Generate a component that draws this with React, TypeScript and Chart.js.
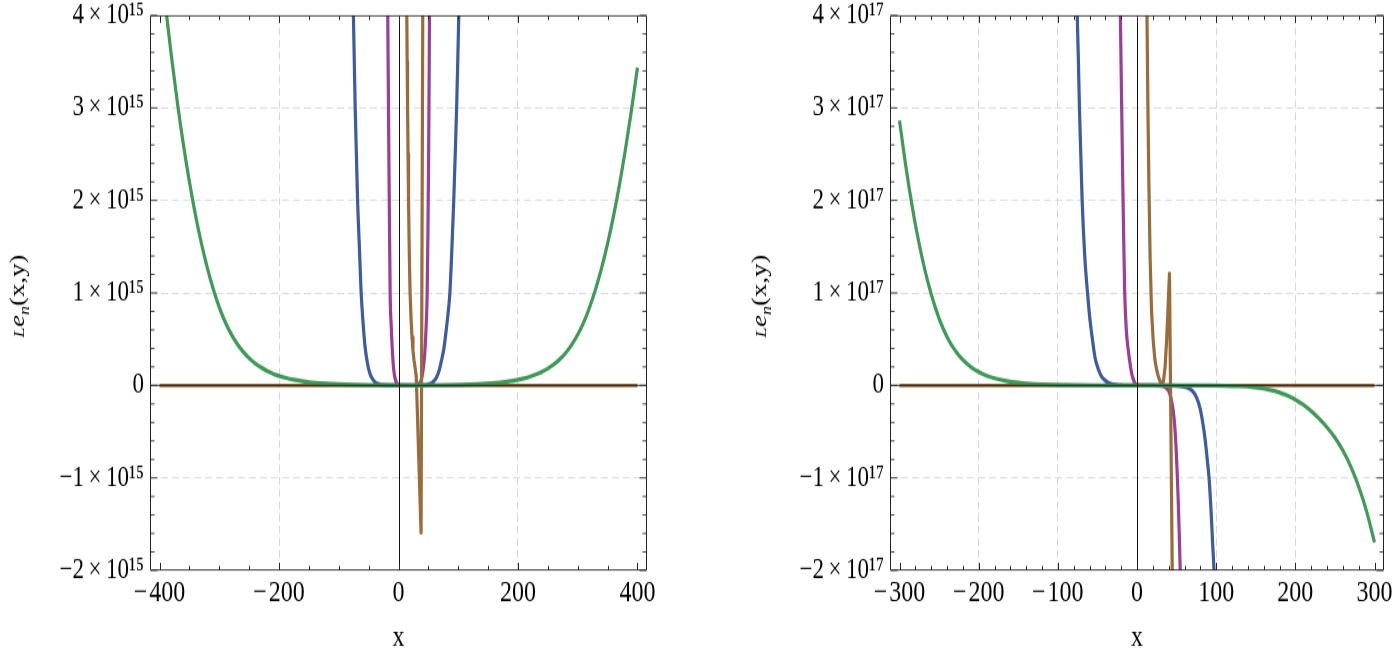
import React, { useEffect, useRef } from "react";
import { Chart, registerables } from "chart.js";

Chart.register(...registerables);

const SERIF = '"Liberation Serif", "Times New Roman", serif';

const GREEN = "#3e9a56";
const BLUE = "#3e5b9d";
const MAGENTA = "#9b3e97";
const BROWN = "#9b6c3b";
const GRID = "#d6d6d6";
const LINE_W = 3.2;

// The reference picture is vertically stretched; the canvas is drawn at a
// reduced height and shown at full height so glyphs get the same tall shape.
const PAGE_H = 651;
const CANVAS_H = 509;
const VSTRETCH = PAGE_H / CANVAS_H;

// ---------------- Left panel (y in units of 1e15) ----------------
const LEFT_UNIT = 1e15;
const LEFT_EXP = "¹⁵";
const LEFT_X_MIN = -416;
const LEFT_X_MAX = 416;
const LEFT_Y_MIN = -2;
const LEFT_Y_MAX = 4;
const LEFT_X_TICKS = [-400, -200, 0, 200, 400];
const LEFT_Y_TICKS = [-2, -1, 0, 1, 2, 3, 4];
const LEFT_X_GRID = [-200, 200];
const LEFT_Y_GRID = [-1, 1, 2, 3];
const LEFT_X_MINOR_STEP = 50;

const leftGreenX = [-400, -390, -380, -370, -360, -350, -340, -330, -320, -310, -300, -290, -280, -270, -260, -250, -240, -230, -220, -210, -200, -190, -175, -160, -145, -130, -110, -90, -70, -45, -20, 0, 25, 50, 75, 100, 120, 140, 155, 170, 185, 200, 210, 220, 230, 240, 250, 260, 270, 280, 290, 300, 310, 320, 330, 340, 350, 360, 370, 380, 390, 400];
const leftGreenY = [4.7, 4.1, 3.55, 3.05, 2.6, 2.2, 1.845, 1.537, 1.27, 1.04, 0.844, 0.684, 0.554, 0.449, 0.364, 0.295, 0.239, 0.194, 0.157, 0.127, 0.103, 0.084, 0.061, 0.0446, 0.0325, 0.0237, 0.0156, 0.0103, 0.0067, 0.004, 0.0024, 0.0015, 0.0013, 0.0022, 0.0039, 0.0067, 0.0105, 0.0162, 0.0226, 0.0314, 0.0437, 0.0607, 0.0757, 0.0943, 0.1175, 0.1465, 0.1825, 0.227, 0.283, 0.353, 0.44, 0.548, 0.683, 0.847, 1.041, 1.269, 1.532, 1.833, 2.174, 2.555, 2.976, 3.435];

const leftBlueX = [-80, -77.5, -75.5, -74, -72.5, -70.5, -68.5, -65.5, -62.5, -59, -56, -52, -48, -44, -40, -35, -30, -22, -12, 0, 12, 24, 34, 42, 48, 53, 58, 63, 67.5, 72, 76, 79, 82.5, 86, 89.5, 92.5, 95, 97.3, 99.2, 100.9, 103.5, 106];
const leftBlueY = [5.3, 4.5, 4.0, 3.5, 3.0, 2.5, 2.0, 1.5, 1.0, 0.65, 0.42, 0.24, 0.13, 0.075, 0.04, 0.018, 0.008, 0.002, 0.0003, 0, 0, 0.0001, 0.0008, 0.003, 0.008, 0.018, 0.04, 0.08, 0.15, 0.27, 0.4, 0.55, 0.75, 1.0, 1.5, 2.0, 2.5, 3.0, 3.5, 4.0, 4.8, 5.6];

const leftMagentaX = [-21, -19.5, -18, -17, -16, -15, -14, -12, -10, -8, -5.5, -3, -1, 0, 10, 20, 30, 35, 38, 40.5, 42.5, 44, 46, 48, 49.2, 50.2, 51, 51.7, 52.5, 53.5];
const leftMagentaY = [5.6, 4.8, 4.0, 3.2, 2.4, 1.65, 1.0, 0.62, 0.34, 0.17, 0.07, 0.025, 0.005, 0.001, 0, 0, 0.003, 0.02, 0.06, 0.14, 0.24, 0.35, 0.6, 1.0, 1.6, 2.3, 3.0, 3.8, 4.6, 5.6];

const leftBrownX = [11, 12.5, 13.9, 14.5, 15.2, 16, 16.8, 18, 19.4, 21, 22.6, 24.2, 26, 28, 29.7, 37.8, 40.6, 41.6];
const leftBrownY = [7.5, 5.6, 4.0, 3.5, 3.0, 2.5, 2.0, 1.45, 1.0, 0.72, 0.52, 0.38, 0.27, 0.18, 0.1, -1.59, 4.0, 6.2];

const leftFlatX = [-400, 400];
const leftFlatY = [0, 0];

// ---------------- Right panel (y in units of 1e17) ----------------
const RIGHT_UNIT = 1e17;
const RIGHT_EXP = "¹⁷";
const RIGHT_X_MIN = -312;
const RIGHT_X_MAX = 312;
const RIGHT_Y_MIN = -2;
const RIGHT_Y_MAX = 4;
const RIGHT_X_TICKS = [-300, -200, -100, 0, 100, 200, 300];
const RIGHT_Y_TICKS = [-2, -1, 0, 1, 2, 3, 4];
const RIGHT_X_GRID = [-200, -100, 100, 200];
const RIGHT_Y_GRID = [-1, 1, 2, 3];
const RIGHT_X_MINOR_STEP = 20;

const rightGreenX = [-300, -292, -284, -276, -268, -260, -250, -240, -230, -220, -210, -200, -190, -180, -165, -150, -135, -120, -100, -75, -50, -25, 0, 30, 60, 90, 110, 130, 145, 159, 170, 180, 190, 200, 210, 220, 230, 240, 250, 260, 270, 280, 290, 300];
const rightGreenY = [2.863, 2.368, 1.936, 1.565, 1.251, 0.988, 0.724, 0.526, 0.382, 0.277, 0.201, 0.146, 0.106, 0.077, 0.0477, 0.0295, 0.0183, 0.0113, 0.006, 0.0027, 0.0012, 0.0005, 0, 0, -0.0002, -0.001, -0.0031, -0.0089, -0.0181, -0.0336, -0.0526, -0.0771, -0.11, -0.154, -0.209, -0.2775, -0.359, -0.453, -0.564, -0.703, -0.876, -1.092, -1.36, -1.696];

const rightBlueX = [-80, -77.5, -75.5, -74, -72.7, -71, -69.3, -66, -62.5, -59, -56, -53, -49, -45, -41, -37, -32, -26, -18, -8, 0, 20, 40, 50, 57, 62, 66, 70, 73.5, 77, 80, 83, 86, 88.5, 91, 93.5, 95.5, 97.3, 99.5];
const rightBlueY = [5.0, 4.4, 4.0, 3.5, 3.0, 2.5, 2.0, 1.4, 1.0, 0.68, 0.48, 0.3, 0.18, 0.1, 0.06, 0.032, 0.015, 0.006, 0.0015, 0.0002, 0, 0, -0.001, -0.004, -0.01, -0.02, -0.035, -0.06, -0.1, -0.17, -0.26, -0.4, -0.58, -0.78, -1.0, -1.35, -1.7, -2.0, -2.5];

const rightMagentaX = [-23, -21, -20, -19, -18, -17, -15.5, -13.5, -11, -9, -6.5, -4, -2, 0, 10, 20, 30, 36, 40, 43, 45.5, 47.5, 49.5, 51, 52.3, 53.5, 54.6, 56];
const rightMagentaY = [5.0, 4.0, 3.4, 2.8, 2.2, 1.7, 1.0, 0.6, 0.38, 0.25, 0.12, 0.05, 0.015, 0.005, 0, 0, -0.004, -0.02, -0.06, -0.14, -0.26, -0.42, -0.7, -1.0, -1.3, -1.65, -2.0, -2.6];

const rightBrownX = [10, 11.5, 12.6, 13.8, 15, 16.5, 18.4, 20.5, 22.6, 24.8, 26.8, 28.8, 30.5, 31.7, 33.5, 35.5, 37.5, 39.5, 41, 44.5, 45.2];
const rightBrownY = [6.0, 4.8, 4.0, 3.0, 2.2, 1.4, 0.8, 0.48, 0.28, 0.17, 0.1, 0.05, 0.02, 0.008, 0.05, 0.2, 0.5, 0.9, 1.21, -2.0, -2.8];

const rightFlatX = [-300, 300];
const rightFlatY = [0, 0];

// ---------------- helpers ----------------
function pts(xs: number[], ys: number[], unit: number) {
  return xs.map((x, i) => ({ x, y: ys[i] * unit }));
}

function xLabel(v: number) {
  if (v === 0) return "0";
  return (v < 0 ? "\u2212\u200A" : "") + Math.abs(v);
}

function yLabel(v: number, exp: string) {
  if (v === 0) return "0";
  return (v < 0 ? "\u2212" : "") + Math.abs(v) + "\u2009×\u200910" + exp;
}

type PanelCfg = {
  unit: number;
  exp: string;
  xMin: number;
  xMax: number;
  yMin: number;
  yMax: number;
  xTicks: number[];
  yTicks: number[];
  xGrid: number[];
  yGrid: number[];
  xMinorStep: number;
  canvasWidth: number;
  yAxisWidth: number;
  padRight: number;
  titleX: number;
  datasets: any[];
};

function drawYTitle(ctx: CanvasRenderingContext2D, baseX: number, centerY: number) {
  const parts = [
    { t: "L", size: 15, italic: true, shift: 0 },
    { t: "e", size: 21, italic: true, shift: 0 },
    { t: "n", size: 14, italic: true, shift: 4.5 },
    { t: "(x,y)", size: 21, italic: false, shift: 0 },
  ];
  ctx.save();
  ctx.translate(baseX, centerY);
  ctx.rotate(-Math.PI / 2);
  ctx.fillStyle = "#000";
  ctx.textBaseline = "alphabetic";
  ctx.textAlign = "left";
  const fonts = parts.map((p) => `${p.italic ? "italic " : ""}${p.size}px ${SERIF}`);
  let total = 0;
  const widths = parts.map((p, i) => {
    ctx.font = fonts[i];
    const w = ctx.measureText(p.t).width;
    total += w;
    return w;
  });
  let pos = -total / 2;
  parts.forEach((p, i) => {
    ctx.font = fonts[i];
    ctx.fillText(p.t, pos, p.shift);
    pos += widths[i];
  });
  ctx.restore();
}

function framePlugin(cfg: PanelCfg) {
  return {
    id: "frameTicks",
    afterDatasetsDraw(chart: any) {
      const { ctx, chartArea: a } = chart;
      const xs = chart.scales.x;
      const ys = chart.scales.y;
      const L = Math.round(a.left) + 0.5;
      const R = Math.round(a.right) - 0.5;
      const T = a.top + 0.4;
      const B = a.bottom - 0.4;
      ctx.save();
      // axes through the origin
      ctx.strokeStyle = "#111";
      const px0 = Math.round(xs.getPixelForValue(0)) + 0.5;
      const py0 = ys.getPixelForValue(0);
      ctx.lineWidth = 1;
      ctx.beginPath();
      ctx.moveTo(px0, T);
      ctx.lineTo(px0, B);
      ctx.stroke();
      ctx.lineWidth = 0.85;
      ctx.beginPath();
      ctx.moveTo(L, py0);
      ctx.lineTo(R, py0);
      ctx.stroke();
      // frame
      ctx.strokeStyle = "#222";
      ctx.lineWidth = 1;
      ctx.beginPath();
      ctx.moveTo(L, T);
      ctx.lineTo(L, B);
      ctx.moveTo(R, T);
      ctx.lineTo(R, B);
      ctx.stroke();
      ctx.lineWidth = 0.85;
      ctx.beginPath();
      ctx.moveTo(L, T);
      ctx.lineTo(R, T);
      ctx.moveTo(L, B);
      ctx.lineTo(R, B);
      ctx.stroke();
      // ticks (inward) on all sides
      ctx.lineWidth = 1;
      ctx.beginPath();
      const majorV = 7 / VSTRETCH;
      const minorV = 4 / VSTRETCH;
      for (let v = cfg.xTicks[0]; v <= cfg.xTicks[cfg.xTicks.length - 1] + 1e-9; v += cfg.xMinorStep) {
        const isMajor = cfg.xTicks.some((t) => Math.abs(t - v) < 1e-9);
        const len = isMajor ? majorV : minorV;
        const p = Math.round(xs.getPixelForValue(v)) + 0.5;
        ctx.moveTo(p, B);
        ctx.lineTo(p, B - len);
        ctx.moveTo(p, T);
        ctx.lineTo(p, T + len);
      }
      ctx.stroke();
      ctx.lineWidth = 0.85;
      ctx.beginPath();
      for (let i = cfg.yMin * 5; i <= cfg.yMax * 5; i++) {
        const v = i / 5;
        const isMajor = i % 5 === 0;
        const len = isMajor ? 7 : 4;
        const p = ys.getPixelForValue(v * cfg.unit);
        ctx.moveTo(L, p);
        ctx.lineTo(L + len, p);
        ctx.moveTo(R, p);
        ctx.lineTo(R - len, p);
      }
      ctx.stroke();
      ctx.restore();
      drawYTitle(ctx, cfg.titleX, (a.top + a.bottom) / 2 + 2.5);
    },
  };
}

function makeConfig(cfg: PanelCfg): any {
  return {
    type: "line",
    data: { datasets: cfg.datasets },
    options: {
      animation: false,
      responsive: false,
      maintainAspectRatio: false,
      events: [],
      layout: { autoPadding: false, padding: { top: 12, right: cfg.padRight, left: 0, bottom: 0 } },
      plugins: { legend: { display: false }, tooltip: { enabled: false } },
      elements: { point: { radius: 0 } },
      scales: {
        x: {
          type: "linear",
          min: cfg.xMin,
          max: cfg.xMax,
          afterBuildTicks: (s: any) => {
            s.ticks = cfg.xTicks.map((v) => ({ value: v }));
          },
          afterFit: (s: any) => {
            s.height = 63;
          },
          grid: {
            drawTicks: false,
            lineWidth: 1,
            color: (c: any) =>
              c.tick && cfg.xGrid.some((g) => Math.abs(g - c.tick.value) < 1e-9) ? GRID : "rgba(0,0,0,0)",
          },
          border: { display: false, dash: [6, 3.5] },
          ticks: {
            padding: 3,
            color: "#000",
            maxRotation: 0,
            autoSkip: false,
            font: { family: SERIF, size: 24 },
            callback: (v: any) => xLabel(Number(v)),
          },
          title: {
            display: true,
            text: "x",
            color: "#000",
            font: { family: SERIF, size: 24, lineHeight: 1 },
            padding: { top: 0, bottom: -2 },
          },
        },
        y: {
          type: "linear",
          min: cfg.yMin * cfg.unit,
          max: cfg.yMax * cfg.unit,
          afterBuildTicks: (s: any) => {
            s.ticks = cfg.yTicks.map((v) => ({ value: v * cfg.unit }));
          },
          afterFit: (s: any) => {
            s.width = cfg.yAxisWidth;
            s.paddingTop = 0;
            s.paddingBottom = 0;
          },
          grid: {
            drawTicks: false,
            lineWidth: 0.85,
            color: (c: any) =>
              c.tick && cfg.yGrid.some((g) => Math.abs(g * cfg.unit - c.tick.value) < cfg.unit * 1e-6)
                ? GRID
                : "rgba(0,0,0,0)",
          },
          border: { display: false, dash: [7, 4] },
          ticks: {
            padding: 6,
            color: "#000",
            autoSkip: false,
            font: { family: SERIF, size: 23, lineHeight: 0.3 },
            callback: (v: any) => yLabel(Math.round((Number(v) / cfg.unit) * 100) / 100, cfg.exp),
          },
          title: { display: false },
        },
      },
    },
    plugins: [framePlugin(cfg)],
  };
}

function line(data: any[], color: string, smooth: boolean, width = LINE_W) {
  return {
    data,
    borderColor: color,
    backgroundColor: color,
    borderWidth: width,
    pointRadius: 0,
    fill: false,
    clip: 0,
    tension: smooth ? 0.4 : 0,
    cubicInterpolationMode: smooth ? "monotone" : "default",
    borderJoinStyle: "round",
    borderCapStyle: "butt",
  };
}

const leftCfg: PanelCfg = {
  unit: LEFT_UNIT,
  exp: LEFT_EXP,
  xMin: LEFT_X_MIN,
  xMax: LEFT_X_MAX,
  yMin: LEFT_Y_MIN,
  yMax: LEFT_Y_MAX,
  xTicks: LEFT_X_TICKS,
  yTicks: LEFT_Y_TICKS,
  xGrid: LEFT_X_GRID,
  yGrid: LEFT_Y_GRID,
  xMinorStep: LEFT_X_MINOR_STEP,
  canvasWidth: 697,
  yAxisWidth: 150,
  padRight: 50,
  titleX: 24,
  datasets: [
    line(pts(leftGreenX, leftGreenY, LEFT_UNIT), GREEN, true),
    line(pts(leftBrownX, leftBrownY, LEFT_UNIT), BROWN, false),
    line(pts(leftMagentaX, leftMagentaY, LEFT_UNIT), MAGENTA, true),
    line(pts(leftBlueX, leftBlueY, LEFT_UNIT), BLUE, true),
    line(pts(leftFlatX, leftFlatY, LEFT_UNIT), BROWN, false, 2.6),
  ],
};

const rightCfg: PanelCfg = {
  unit: RIGHT_UNIT,
  exp: RIGHT_EXP,
  xMin: RIGHT_X_MIN,
  xMax: RIGHT_X_MAX,
  yMin: RIGHT_Y_MIN,
  yMax: RIGHT_Y_MAX,
  xTicks: RIGHT_X_TICKS,
  yTicks: RIGHT_Y_TICKS,
  xGrid: RIGHT_X_GRID,
  yGrid: RIGHT_Y_GRID,
  xMinorStep: RIGHT_X_MINOR_STEP,
  canvasWidth: 737,
  yAxisWidth: 193,
  padRight: 50,
  titleX: 69,
  datasets: [
    line(pts(rightGreenX, rightGreenY, RIGHT_UNIT), GREEN, true),
    line(pts(rightBrownX, rightBrownY, RIGHT_UNIT), BROWN, false),
    line(pts(rightMagentaX, rightMagentaY, RIGHT_UNIT), MAGENTA, true),
    line(pts(rightBlueX, rightBlueY, RIGHT_UNIT), BLUE, true),
    line(pts(rightFlatX, rightFlatY, RIGHT_UNIT), BROWN, false, 2.6),
  ],
};

function Panel({ cfg }: { cfg: PanelCfg }) {
  const ref = useRef<HTMLCanvasElement | null>(null);
  useEffect(() => {
    if (!ref.current) return;
    const chart = new Chart(ref.current, makeConfig(cfg));
    return () => chart.destroy();
  }, [cfg]);
  return (
    <canvas
      ref={ref}
      width={cfg.canvasWidth}
      height={CANVAS_H}
      style={{ display: "block", width: cfg.canvasWidth, height: PAGE_H, flex: "0 0 auto" }}
    />
  );
}

export default function App() {
  return (
    <div
      style={{
        position: "fixed",
        left: 0,
        top: 0,
        width: 1394,
        height: PAGE_H,
        display: "flex",
        overflow: "hidden",
        background: "#fff",
      }}
    >
      <Panel cfg={leftCfg} />
      <Panel cfg={rightCfg} />
    </div>
  );
}
